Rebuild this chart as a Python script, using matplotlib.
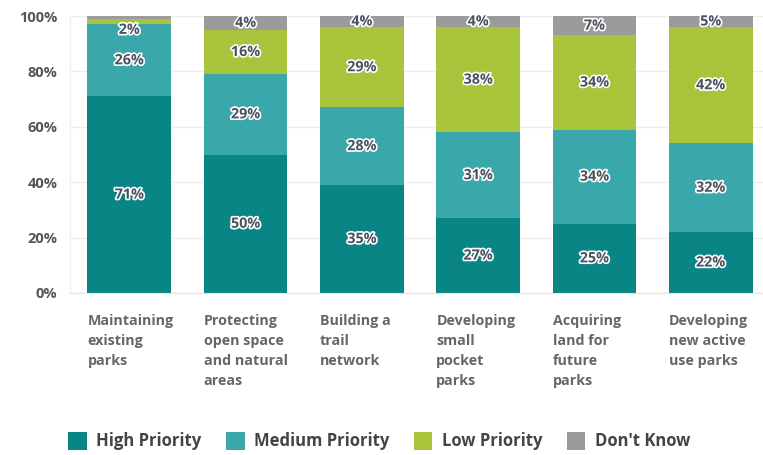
import matplotlib
matplotlib.use("Agg")
import matplotlib.pyplot as plt
import matplotlib.patheffects as pe
from matplotlib.patches import Patch
import numpy as np

plt.rcParams['font.family'] = ['Open Sans', 'DejaVu Sans']

categories = ["Maintaining\nexisting\nparks",
              "Protecting\nopen space\nand natural\nareas",
              "Building a\ntrail\nnetwork",
              "Developing\nsmall\npocket\nparks",
              "Acquiring\nland for\nfuture\nparks",
              "Developing\nnew active\nuse parks"]
series = ["High Priority", "Medium Priority", "Low Priority", "Don't Know"]

# bar heights as drawn in the picture
high = [71, 50, 39, 27, 25, 22]
medium = [26, 29, 28, 31, 34, 32]
low = [2, 16, 29, 38, 34, 42]
dont_know = [1, 5, 4, 4, 7, 4]

# printed labels (None = no label)
high_lbl = ["71%", "50%", "35%", "27%", "25%", "22%"]
medium_lbl = ["26%", "29%", "28%", "31%", "34%", "32%"]
low_lbl = ["2%", "16%", "29%", "38%", "34%", "42%"]
dk_lbl = [None, "4%", "4%", "4%", "7%", "5%"]

colors = ["#0a8585", "#3aa8aa", "#a8c43a", "#9b9b9b"]

fig = plt.figure(figsize=(7.63, 4.55), dpi=100)
ax = fig.add_axes([70/763, 1 - 293/455, 1 - 70/763, 277/455])

x = np.arange(len(categories))
width = 0.72
bottom = np.zeros(len(categories))
halo = [pe.withStroke(linewidth=2.4, foreground="white")]

for vals, lbls, col, name in zip([high, medium, low, dont_know],
                                 [high_lbl, medium_lbl, low_lbl, dk_lbl],
                                 colors, series):
    vals = np.array(vals, dtype=float)
    ax.bar(x, vals, width, bottom=bottom, color=col, label=name, zorder=2)
    for i, (v, l) in enumerate(zip(vals, lbls)):
        if l is None:
            continue
        yc = bottom[i] + v / 2 if v >= 3 else bottom[i] - 2
        ax.text(x[i], yc, l, ha="center", va="center", fontsize=10.3,
                color="#4d5060", fontweight="bold", path_effects=halo, zorder=3)
    bottom += vals

ax.set_xlim(-0.51, 5.45)
ax.set_ylim(0, 100)
ax.set_yticks(range(0, 101, 20))
ax.set_yticklabels([f"{t}%" for t in range(0, 101, 20)])
ax.tick_params(axis="y", length=0, pad=9, labelsize=10.5, labelcolor="#555555")
ax.tick_params(axis="x", length=0, labelbottom=False)
for lab in ax.get_yticklabels():
    lab.set_fontweight("bold")
ax.grid(axis="y", color="#eeeeee", linewidth=1, zorder=0)
for s in ["top", "right"]:
    ax.spines[s].set_visible(False)
ax.spines["left"].set_color("#eeeeee")
ax.spines["bottom"].set_color("#dde8ea")

for i, c in enumerate(categories):
    ax.text(x[i] - width / 2, -7.5, c, ha="left", va="top", fontsize=10.3,
            color="#666666", fontweight="bold", linespacing=1.55,
            clip_on=False)

handles = [Patch(facecolor=c, label=s) for c, s in zip(colors, series)]
fig.legend(handles=handles, loc="center", bbox_to_anchor=(0.497, 1 - 441/455),
           ncol=4, frameon=False, handlelength=1.1,
           handleheight=1.3, columnspacing=1.5, handletextpad=0.55,
           labelcolor="#444444", prop={"weight": "bold", "size": 12})

fig.savefig("out.png", dpi=100)
